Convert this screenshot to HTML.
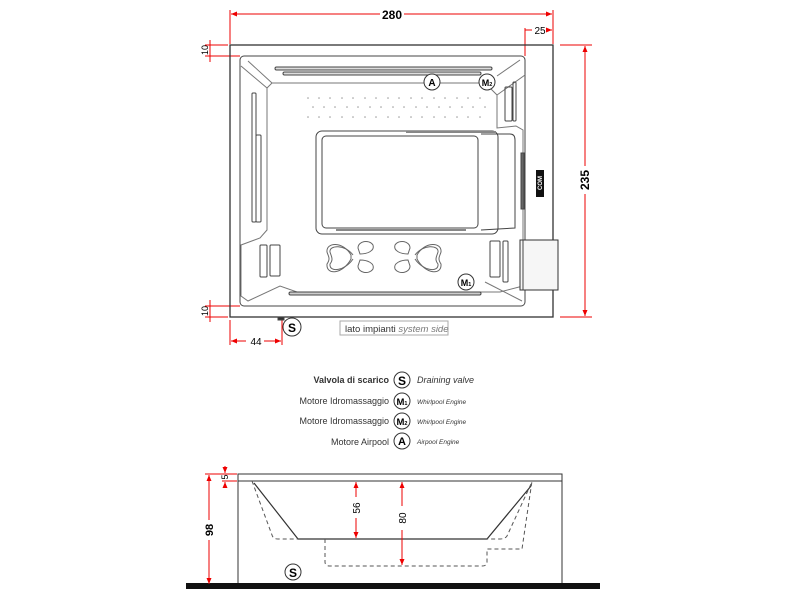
<!DOCTYPE html>
<html><head><meta charset="utf-8"><style>
html,body{margin:0;padding:0;background:#fff;}
svg{display:block;}
text{font-family:"Liberation Sans",sans-serif;}
</style></head><body>
<svg width="800" height="600" viewBox="0 0 800 600" xmlns="http://www.w3.org/2000/svg">
<defs>
<marker id="ar" markerWidth="6" markerHeight="6" refX="6" refY="3" orient="auto-start-reverse"><path d="M0,0.5 L6,3 L0,5.5z" fill="#e00"/></marker>
<g id="bf" fill="none" stroke="#666" stroke-width="1">
<path d="M0,13 C-8,-1 -25,0 -24,10 C-23,14 -20,16 -24,22 C-25,34 -8,32 0,17 Z"/>
<path d="M2,13 C-6,2 -22,3 -21,10 C-20,14 -17,17 -21,22 C-22,31 -6,29 2,17"/>
<path d="M7,6 C7,-1 18,-3 22,3 C24,9 16,12 9,12 Z"/>
<path d="M7,24 C7,31 18,33 22,27 C24,21 16,18 9,18 Z"/>
</g>
</defs>
<g stroke="#e00" stroke-width="1" fill="none">
<line x1="230" y1="10" x2="230" y2="44"/><line x1="553" y1="10" x2="553" y2="44"/>
<line x1="231" y1="14" x2="380" y2="14" marker-start="url(#ar)"/><line x1="404" y1="14" x2="552" y2="14" marker-end="url(#ar)"/>
<line x1="525" y1="28" x2="525" y2="56"/><line x1="525" y1="30" x2="532" y2="30"/><line x1="547" y1="30" x2="552" y2="30" marker-end="url(#ar)"/>
<line x1="560" y1="45" x2="592" y2="45"/><line x1="560" y1="317" x2="592" y2="317"/>
<line x1="585" y1="46" x2="585" y2="166" marker-start="url(#ar)"/><line x1="585" y1="194" x2="585" y2="316" marker-end="url(#ar)"/>
<line x1="205" y1="45" x2="228" y2="45"/><line x1="205" y1="56" x2="240" y2="56"/>
<line x1="210" y1="40" x2="210" y2="62"/>
<line x1="205" y1="306" x2="240" y2="306"/><line x1="205" y1="317" x2="228" y2="317"/>
<line x1="210" y1="300" x2="210" y2="322"/>
<line x1="230" y1="320" x2="230" y2="345"/><line x1="282" y1="320" x2="282" y2="345"/>
<line x1="231" y1="341" x2="246" y2="341" marker-start="url(#ar)"/><line x1="264" y1="341" x2="281" y2="341" marker-end="url(#ar)"/>
</g>
<text x="392" y="19" font-size="12" font-weight="bold" text-anchor="middle">280</text>
<text x="540" y="34" font-size="10" text-anchor="middle">25</text>
<text x="589" y="180" font-size="12" font-weight="bold" text-anchor="middle" transform="rotate(-90 589 180)">235</text>
<text x="208" y="50" font-size="9" text-anchor="middle" transform="rotate(-90 208 50)">10</text>
<text x="208" y="311" font-size="9" text-anchor="middle" transform="rotate(-90 208 311)">10</text>
<text x="256" y="345" font-size="10" text-anchor="middle">44</text>
<g fill="none" stroke="#444" stroke-width="1">
<rect x="230" y="45" width="323" height="272" stroke="#333" stroke-width="1.3"/>
<rect x="240" y="56" width="285" height="250" rx="4"/>
<path d="M272,83 L485,83 L497,95 L497,128 L516,126 L523,130 L523,286 L500,292 L297,292 L280,286 L248,301 L241,296 L241,245 L260,238 L267,230 L267,88 Z" stroke="#777"/>
<line x1="248" y1="61" x2="272" y2="83" stroke="#777"/><line x1="241" y1="66" x2="267" y2="88" stroke="#777"/>
<line x1="520" y1="60" x2="497" y2="76" stroke="#777"/><line x1="497" y1="95" x2="525" y2="75" stroke="#777"/>
<line x1="485" y1="282" x2="522" y2="301" stroke="#777"/>
<rect x="316" y="131" width="182" height="103" rx="6"/>
<rect x="322" y="136" width="156" height="92" rx="4"/>
<path d="M481,134 L510,134 Q515,134 515,140 L515,228 L481,230"/>
<rect x="275" y="67" width="217" height="3" rx="1.5" fill="#ddd"/>
<rect x="283" y="72" width="198" height="3" rx="1.5" fill="#ddd"/>
<rect x="252" y="93" width="4" height="129" rx="1"/>
<rect x="256" y="135" width="5" height="87" rx="1"/>
<rect x="505" y="87" width="7" height="34" rx="1"/><rect x="513" y="82" width="3" height="39" rx="1"/>
<rect x="521" y="153" width="3" height="56" fill="#666"/>
<rect x="260" y="245" width="7" height="32" rx="1"/><rect x="270" y="245" width="10" height="31" rx="1"/>
<rect x="490" y="241" width="10" height="36" rx="1"/><rect x="503" y="241" width="5" height="41" rx="1"/>
<rect x="520" y="240" width="38" height="50" stroke="#333" fill="#f6f6f6"/>
<line x1="523" y1="240" x2="523" y2="290"/>
<rect x="289" y="292" width="192" height="3" rx="1.5" fill="#ccc"/>
<rect x="406" y="131" width="90" height="2" fill="#888" stroke="none"/>
<rect x="336" y="229" width="130" height="2" fill="#888" stroke="none"/>
<rect x="278" y="317" width="6" height="3" fill="#333"/>
</g>
<g fill="#999">
<g id="dr"><circle cx="308" cy="98" r="0.8"/><circle cx="319" cy="98" r="0.8"/><circle cx="330" cy="98" r="0.8"/><circle cx="342" cy="98" r="0.8"/><circle cx="353" cy="98" r="0.8"/><circle cx="365" cy="98" r="0.8"/><circle cx="376" cy="98" r="0.8"/><circle cx="388" cy="98" r="0.8"/><circle cx="399" cy="98" r="0.8"/><circle cx="411" cy="98" r="0.8"/><circle cx="422" cy="98" r="0.8"/><circle cx="434" cy="98" r="0.8"/><circle cx="445" cy="98" r="0.8"/><circle cx="457" cy="98" r="0.8"/><circle cx="468" cy="98" r="0.8"/><circle cx="480" cy="98" r="0.8"/></g>
<use href="#dr" x="5" y="9"/><use href="#dr" y="19"/>
</g>
<use href="#bf" transform="translate(351,242)"/>
<use href="#bf" transform="translate(417,242) scale(-1,1)"/>
<g font-weight="bold" text-anchor="middle" font-size="10">
<circle cx="432" cy="82" r="8" fill="#fff" stroke="#333"/><text x="432" y="86">A</text>
<circle cx="487" cy="82" r="8" fill="#fff" stroke="#333"/><text x="487" y="86" font-size="9">M<tspan font-size="5.5">2</tspan></text>
<circle cx="466" cy="282" r="8" fill="#fff" stroke="#333"/><text x="466" y="286" font-size="9">M<tspan font-size="5.5">1</tspan></text>
<circle cx="292" cy="327" r="9" fill="#fff" stroke="#333"/><text x="292" y="332" font-size="12">S</text>
</g>
<rect x="536" y="170" width="8" height="27" fill="#111"/>
<text x="540" y="183" font-size="6" font-weight="bold" fill="#fff" text-anchor="middle" transform="rotate(-90 540 183)" dy="2">COM</text>
<rect x="340" y="321" width="108" height="14" fill="#fff" stroke="#aaa"/>
<text x="345" y="332" font-size="9.5" fill="#333">lato impianti <tspan font-style="italic" fill="#777">system side</tspan></text>
<g font-size="9" fill="#333">
<text x="389" y="383" text-anchor="end" font-weight="bold">Valvola di scarico</text>
<text x="389" y="404" text-anchor="end">Motore Idromassaggio</text>
<text x="389" y="424" text-anchor="end">Motore Idromassaggio</text>
<text x="389" y="445" text-anchor="end">Motore Airpool</text>
<text x="417" y="383" font-style="italic">Draining valve</text>
<text x="417" y="404" font-style="italic" font-size="6.5">Whirlpool Engine</text>
<text x="417" y="424" font-style="italic" font-size="6.5">Whirlpool Engine</text>
<text x="417" y="444" font-style="italic" font-size="6.5">Airpool Engine</text>
</g>
<g font-weight="bold" text-anchor="middle" font-size="11">
<circle cx="402" cy="380" r="8" fill="#fff" stroke="#333"/><text x="402" y="385" font-size="12">S</text>
<circle cx="402" cy="401" r="8" fill="#fff" stroke="#333"/><text x="402" y="405" font-size="9.5">M<tspan font-size="5.5">1</tspan></text>
<circle cx="402" cy="421" r="8" fill="#fff" stroke="#333"/><text x="402" y="425" font-size="9.5">M<tspan font-size="5.5">2</tspan></text>
<circle cx="402" cy="441" r="8" fill="#fff" stroke="#333"/><text x="402" y="445">A</text>
</g>
<g fill="none" stroke="#333" stroke-width="1">
<rect x="238" y="474" width="324" height="7"/>
<line x1="238" y1="481" x2="238" y2="585"/><line x1="562" y1="481" x2="562" y2="585"/>
<path d="M254,483 L298,539 L487,539 L531,486" stroke-width="1.2"/>
<g stroke-dasharray="4,3" stroke="#555">
<path d="M252,481 L272,535 Q273,539 278,539 L298,539"/>
<path d="M325,539 L325,562 Q325,566 330,566 L482,566 Q487,566 487,562 L487,549 L522,549 L532,481"/>
<path d="M531,484 L507,536 Q505,539 500,539 L487,539"/>
</g>
</g>
<rect x="186" y="583" width="414" height="6" fill="#111"/>
<g stroke="#e00" stroke-width="1" fill="none">
<line x1="205" y1="474" x2="237" y2="474"/><line x1="222" y1="481" x2="237" y2="481"/>
<line x1="209" y1="475" x2="209" y2="520" marker-start="url(#ar)"/><line x1="209" y1="540" x2="209" y2="584" marker-end="url(#ar)"/>
<line x1="225" y1="466" x2="225" y2="473" marker-end="url(#ar)"/><line x1="225" y1="488" x2="225" y2="482" marker-end="url(#ar)"/>
<line x1="356" y1="482" x2="356" y2="497" marker-start="url(#ar)"/><line x1="356" y1="518" x2="356" y2="538" marker-end="url(#ar)"/>
<line x1="402" y1="482" x2="402" y2="506" marker-start="url(#ar)"/><line x1="402" y1="530" x2="402" y2="565" marker-end="url(#ar)"/>
</g>
<text x="213" y="530" font-size="11" font-weight="bold" text-anchor="middle" transform="rotate(-90 213 530)">98</text>
<text x="228" y="477" font-size="9" text-anchor="middle" transform="rotate(-90 228 477)">5</text>
<text x="360" y="508" font-size="10" text-anchor="middle" transform="rotate(-90 360 508)">56</text>
<text x="406" y="518" font-size="10" text-anchor="middle" transform="rotate(-90 406 518)">80</text>
<circle cx="293" cy="572" r="8" fill="#fff" stroke="#333"/>
<text x="293" y="577" font-size="12" font-weight="bold" text-anchor="middle">S</text>
</svg>
</body></html>
